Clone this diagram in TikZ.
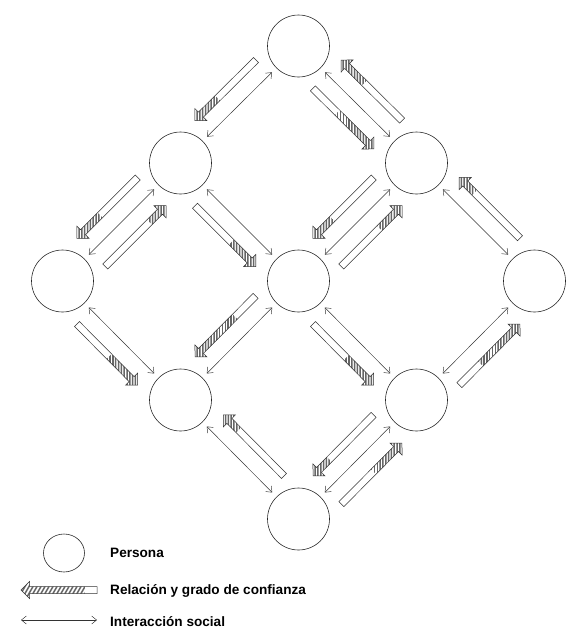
\documentclass[tikz,border=0pt]{standalone}
\usepackage{fontspec}
\setmainfont{Liberation Sans}
\usetikzlibrary{calc,arrows.meta,shapes.geometric}

\tikzset{
  person/.style={circle, draw=black!85, line width=0.6pt, minimum size=62pt, inner sep=0pt},
  inter/.style={{Straight Barb[length=5pt,width=8pt]}-{Straight Barb[length=5pt,width=8pt]},
                line width=0.45pt, draw=black!80, shorten <=6pt, shorten >=6pt},
  blockline/.style={draw=black!80, line width=0.5pt},
  hatchline/.style={draw=black!60, line width=1.5pt},
  legtext/.style={anchor=base west, font=\bfseries\fontsize{13.6}{15}\selectfont, inner sep=0pt}
}

% block arrow centred at origin, pointing to +x; #1 half length, #2 hatched fraction, #3 local stripe angle
\newcommand\blockshape[3]{%
  \def\bpath{(-#1,-3.5pt) -- ({#1-8.5pt},-3.5pt) -- ({#1-8.5pt},-8.5pt) -- (#1,0pt)
     -- ({#1-8.5pt},8.5pt) -- ({#1-8.5pt},3.5pt) -- (-#1,3.5pt) -- cycle}%
  \fill[white] \bpath;
  \begin{scope}
    \clip \bpath;
    \clip ({#1-2*#1*#2},-12pt) rectangle ({#1+2pt},12pt);
    \foreach \s in {-64,-60,...,64}
      \draw[hatchline] ($(\s*1pt,0pt)+(#3:16pt)$) -- ($(\s*1pt,0pt)-(#3:16pt)$);
  \end{scope}
  \draw[blockline] \bpath;
}

% trust arrow from node #1 towards node #2, on the right-hand side, hatched fraction #3
\newcommand\trustarrow[3]{%
  \pgfmathanglebetweenpoints{\pgfpointanchor{#1}{center}}{\pgfpointanchor{#2}{center}}%
  \edef\tangle{\pgfmathresult}%
  \pgfmathsetmacro\sang{90-\tangle}%
  \begin{scope}[shift={($(#1)!0.5!(#2)$)}, rotate=\tangle, yshift=-20pt]
    \blockshape{43pt}{#3}{\sang}
  \end{scope}%
}

\begin{document}
\begin{tikzpicture}[x=1pt,y=-1pt]
\useasboundingbox (0,0) rectangle (573,637);

% persons
\node[person] (T)  at (298.5,46)  {};
\node[person] (UL) at (180.5,163) {};
\node[person] (UR) at (416.5,163) {};
\node[person] (L)  at (62.5,281)  {};
\node[person] (C)  at (298.5,281) {};
\node[person] (R)  at (534.5,281) {};
\node[person] (LL) at (180.5,400) {};
\node[person] (LR) at (416.5,400) {};
\node[person] (B)  at (298.5,519) {};

% social interaction
\draw[inter] (T) -- (UL);
\draw[inter] (T) -- (UR);
\draw[inter] (UL) -- (L);
\draw[inter] (UL) -- (C);
\draw[inter] (UR) -- (C);
\draw[inter] (UR) -- (R);
\draw[inter] (L) -- (LL);
\draw[inter] (C) -- (LL);
\draw[inter] (C) -- (LR);
\draw[inter] (R) -- (LR);
\draw[inter] (LL) -- (B);
\draw[inter] (LR) -- (B);

% trust relations
\trustarrow{T}{UL}{0.37}
\trustarrow{T}{UR}{0.6}
\trustarrow{UR}{T}{0.38}
\trustarrow{UL}{L}{0.38}
\trustarrow{L}{UL}{0.27}
\trustarrow{UL}{C}{0.4}
\trustarrow{UR}{C}{0.32}
\trustarrow{C}{UR}{0.37}
\trustarrow{R}{UR}{0.25}
\trustarrow{L}{LL}{0.47}
\trustarrow{C}{LL}{0.66}
\trustarrow{C}{LR}{0.45}
\trustarrow{LR}{R}{0.65}
\trustarrow{B}{LL}{0.25}
\trustarrow{LR}{B}{0.27}
\trustarrow{B}{LR}{0.47}

% legend
\node[draw=black!85, line width=0.6pt, ellipse, minimum width=41pt, minimum height=38pt, inner sep=0pt] (lp) at (64,553) {};
\node[legtext] (t1) at (110,557.5) {Persona};
\begin{scope}[shift={(59,590)}, rotate=180]
  \blockshape{38pt}{0.84}{-120}
\end{scope}
\node[legtext] (t2) at (110,594.5) {Relación y grado de confianza};
\coordinate (la) at (21,620);
\coordinate (lb) at (97,620);
\draw[inter, shorten <=0pt, shorten >=0pt] (la) -- (lb);
\node[legtext] (t3) at (110,626) {Interacción social};
\end{tikzpicture}
\end{document}
